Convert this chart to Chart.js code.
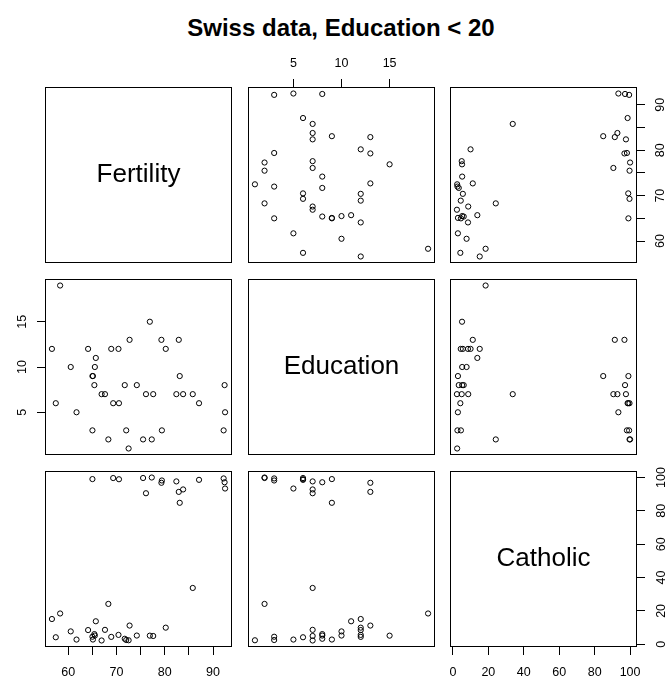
<!DOCTYPE html>
<html>
<head>
<meta charset="utf-8">
<script src="https://cdn.jsdelivr.net/npm/chart.js@4.4.0/dist/chart.umd.min.js"></script>
<style>
  body { margin: 0; background: #fff; }
  #wrap { position: relative; width: 667px; height: 681px; overflow: hidden; background: #fff; }
  #wrap canvas { position: absolute; }
  #title { position: absolute; left: 45px; width: 592px; top: 14px; line-height: 24px; text-align: center;
           font: bold 24px "Liberation Sans", Arial, sans-serif; color: #000; }
</style>
</head>
<body>
<div id="wrap">
  <div id="title">Swiss data, Education &lt; 20</div>
</div>
<script>
// swiss provinces with Education < 20
const varNames = ['Fertility', 'Education', 'Catholic']

const fertility = [80.2, 83.1, 92.5, 85.8, 76.9, 76.1, 83.8, 92.4, 82.4, 82.9, 87.1,
  64.1, 66.9, 68.9, 61.7, 68.3, 71.7, 65.1, 65.5, 65.0, 56.6, 57.4, 72.5, 74.2, 72.0,
  60.5, 58.3, 65.4, 75.5, 69.3, 77.3, 70.5, 79.4, 65.0, 92.2, 79.3, 70.4, 65.7, 72.7,
  77.6, 67.6]
const education = [12, 9, 5, 7, 15, 7, 7, 8, 7, 13, 6,
  12, 7, 12, 5, 2, 8, 9, 10, 3, 12, 6, 1, 8, 3,
  10, 19, 8, 2, 6, 2, 6, 3, 9, 3, 13, 12, 11, 13,
  7, 7]
const catholic = [9.96, 84.84, 93.40, 33.77, 5.16, 90.57, 92.85, 97.16, 97.67, 91.38, 98.61,
  8.52, 2.27, 4.43, 2.82, 24.20, 3.30, 2.84, 5.23, 4.52, 15.14, 4.20, 2.40, 5.23, 2.56,
  7.72, 18.46, 6.10, 99.71, 99.68, 100.00, 98.96, 98.22, 99.06, 99.46, 96.83, 5.62, 13.79, 11.22,
  4.97, 8.65]

const fertilityTicks = [60, 65, 70, 75, 80, 85, 90]
const fertilityLabels = ['60', '', '70', '', '80', '', '90']
const educationTicks = [5, 10, 15]
const educationLabels = ['5', '10', '15']
const catholicTicks = [0, 20, 40, 60, 80, 100]
const catholicLabels = ['0', '20', '40', '60', '80', '100']

const series = [fertility, education, catholic]
const tickSets = [fertilityTicks, educationTicks, catholicTicks]
const labelSets = [fertilityLabels, educationLabels, catholicLabels]

// R style range: data range stretched by 4% on each side
const ranges = series.map(s => {
  const lo = Math.min(...s), hi = Math.max(...s)
  const pad = (hi - lo) * 0.04
  return [lo - pad, hi + pad]
})

const M = 45
const colLeft = [45, 248, 450]
const rowTop = [87, 279, 471]
const panelW = 187
const panelH = 176
const FONT = '"Liberation Sans", Arial, sans-serif'

const xAxisAt = { '0,1': 'top', '2,0': 'bottom', '2,2': 'bottom' }
const yAxisAt = { '0,2': 'right', '1,0': 'left', '2,2': 'right' }
const yLabelPad = [9, 8, 6]

const makeScale = (v, axis, pos) => ({
  type: 'linear',
  position: pos || (axis === 'x' ? 'bottom' : 'left'),
  display: !!pos,
  min: ranges[v][0],
  max: ranges[v][1],
  afterBuildTicks: s => { s.ticks = tickSets[v].map(t => ({ value: t })) },
  afterFit: s => {
    if (!pos) return
    if (axis === 'x') s.height = M
    else s.width = M
  },
  grid: { display: true, drawOnChartArea: false, drawTicks: true, tickLength: 8, tickColor: '#000', tickWidth: 1 },
  border: { display: false },
  ticks: {
    autoSkip: false,
    color: '#000',
    font: { family: FONT, size: 12.5 },
    padding: axis === 'x' ? (pos === 'top' ? 7.5 : 10.5) : yLabelPad[v],
    minRotation: axis === 'y' ? 90 : 0,
    maxRotation: axis === 'y' ? 90 : 0,
    crossAlign: axis === 'y' ? 'center' : 'near',
    callback: (val, i) => labelSets[v][i]
  }
})

const boxPlugin = {
  id: 'box',
  afterDraw: chart => {
    const { ctx, chartArea: a } = chart
    ctx.save()
    ctx.strokeStyle = '#000'
    ctx.lineWidth = 1
    ctx.strokeRect(a.left + 0.5, a.top + 0.5, a.right - a.left - 1, a.bottom - a.top - 1)
    ctx.restore()
  }
}

const makePanel = (r, c) => {
  const key = r + ',' + c
  const xPos = xAxisAt[key]
  const yPos = yAxisAt[key]
  const canvas = document.createElement('canvas')
  canvas.width = panelW + 2 * M
  canvas.height = panelH + 2 * M
  canvas.style.left = (colLeft[c] - M) + 'px'
  canvas.style.top = (rowTop[r] - M) + 'px'
  document.getElementById('wrap').appendChild(canvas)

  const points = r === c ? [] : series[c].map((x, i) => ({ x: x, y: series[r][i] }))
  const plugins = [boxPlugin]
  if (r === c) {
    plugins.push({
      id: 'diagLabel',
      afterDraw: chart => {
        const { ctx, chartArea: a } = chart
        ctx.save()
        ctx.fillStyle = '#000'
        ctx.font = '26px ' + FONT
        ctx.textAlign = 'center'
        ctx.textBaseline = 'middle'
        ctx.fillText(varNames[r], (a.left + a.right) / 2, (a.top + a.bottom) / 2)
        ctx.restore()
      }
    })
  }

  return new Chart(canvas, {
    type: 'scatter',
    data: {
      datasets: [{
        data: points,
        pointStyle: 'circle',
        pointRadius: 2.6,
        pointBorderWidth: 1,
        pointBorderColor: '#000',
        pointBackgroundColor: 'rgba(0,0,0,0)'
      }]
    },
    options: {
      responsive: false,
      animation: false,
      devicePixelRatio: 1,
      layout: {
        padding: {
          left: yPos === 'left' ? 0 : M,
          right: yPos === 'right' ? 0 : M,
          top: xPos === 'top' ? 0 : M,
          bottom: xPos === 'bottom' ? 0 : M
        }
      },
      plugins: { legend: { display: false }, tooltip: { enabled: false } },
      scales: {
        x: makeScale(c, 'x', xPos),
        y: makeScale(r, 'y', yPos)
      }
    },
    plugins: plugins
  })
}

for (let r = 0; r < 3; r++) {
  for (let c = 0; c < 3; c++) {
    makePanel(r, c)
  }
}
</script>
</body>
</html>
